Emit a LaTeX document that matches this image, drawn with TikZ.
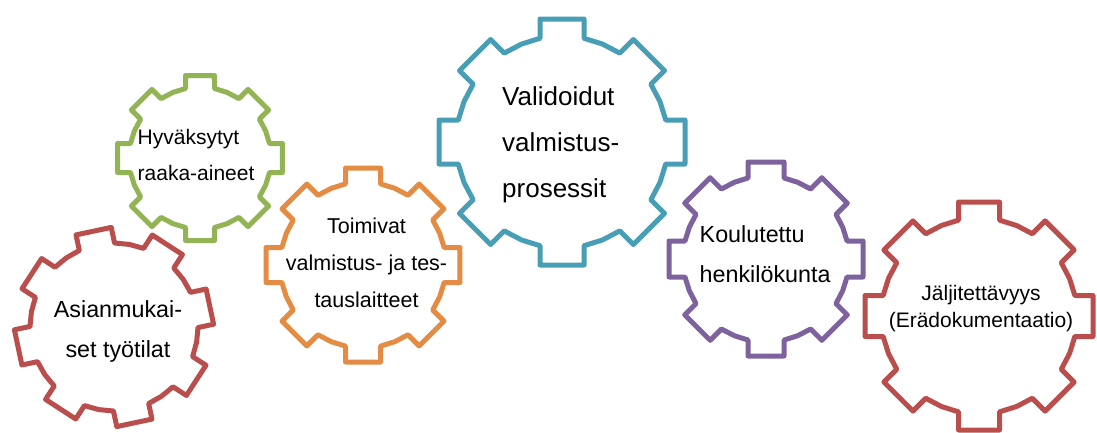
\documentclass[tikz,border=0pt]{standalone}
\usepackage{fontspec}
\setmainfont{Liberation Sans}

\definecolor{gearteal}{RGB}{72,158,180}
\definecolor{gearred}{RGB}{186,78,76}
\definecolor{geargreen}{RGB}{146,180,84}
\definecolor{gearorange}{RGB}{228,140,68}
\definecolor{gearpurple}{RGB}{125,98,158}

\tikzset{
  gearline/.style={line width=5pt, line join=round},
  gtext/.style={inner sep=0pt, text=black},
}

% \drawgear{cx}{cy}{outer face distance}{root radius}{tooth half width}{teeth}{first tooth angle}{colour}
\newcommand\drawgear[8]{%
  \pgfmathsetmacro\ga{asin(#5/#4)}%
  \pgfmathsetmacro\gb{atan(#5/#3)}%
  \pgfmathsetmacro\gR{veclen(#3,#5)}%
  \pgfmathsetmacro\gs{360/#6}%
  \pgfmathtruncatemacro\gn{#6-1}%
  \draw[gearline, draw=#8, shift={(#1,#2)}]
    ({#7-\ga}:#4)
    \foreach \k in {0,...,\gn}{
      -- ({#7+\k*\gs-\gb}:\gR) -- ({#7+\k*\gs+\gb}:\gR)
      -- ({#7+\k*\gs+\ga}:#4) -- ({#7+\k*\gs+\gs/2}:#4)
      -- ({#7+(\k+1)*\gs-\ga}:#4)
    } -- cycle;
}

\begin{document}
\begin{tikzpicture}[x=1pt, y=-1pt]
\useasboundingbox (0,0) rectangle (1097,432);

% gears
\drawgear{114}{327}{98}{84}{18}{8}{33}{gearred}
\drawgear{200}{158}{82.5}{71}{14.5}{8}{270}{geargreen}
\drawgear{363}{265}{97}{83}{17.5}{8}{270}{gearorange}
\drawgear{562}{142}{123}{106}{22}{8}{270}{gearteal}
\drawgear{766}{259}{97}{83}{18}{8}{270}{gearpurple}
\drawgear{979}{316}{114}{98}{20.5}{8}{270}{gearred}

% labels
\node[gtext, anchor=base, font=\fontsize{23.3}{40}\selectfont] (tilat) at (118,317.7)
  {\begin{tabular}[t]{@{}c@{}}Asianmukai-\\set työtilat\end{tabular}};
\node[gtext, anchor=base west, font=\fontsize{21}{36}\selectfont] (aineet) at (137.5,144)
  {\begin{tabular}[t]{@{}l@{}}Hyväksytyt\\raaka-aineet\end{tabular}};
\node[gtext, anchor=base, font=\fontsize{21.5}{37}\selectfont] (laitteet) at (366.5,233)
  {\begin{tabular}[t]{@{}c@{}}Toimivat\\valmistus- ja tes-\\tauslaitteet\end{tabular}};
\node[gtext, anchor=base west, font=\fontsize{26}{46}\selectfont] (prosessit) at (502,105)
  {\begin{tabular}[t]{@{}l@{}}Validoidut\\valmistus-\\prosessit\end{tabular}};
\node[gtext, anchor=base west, font=\fontsize{23.3}{40}\selectfont] (henkilo) at (699.5,242)
  {\begin{tabular}[t]{@{}l@{}}Koulutettu\\henkilökunta\end{tabular}};
\node[gtext, anchor=base, font=\fontsize{21}{27}\selectfont] (jalj) at (981,300)
  {\begin{tabular}[t]{@{}c@{}}Jäljitettävyys\\(Erädokumentaatio)\end{tabular}};
\end{tikzpicture}
\end{document}
